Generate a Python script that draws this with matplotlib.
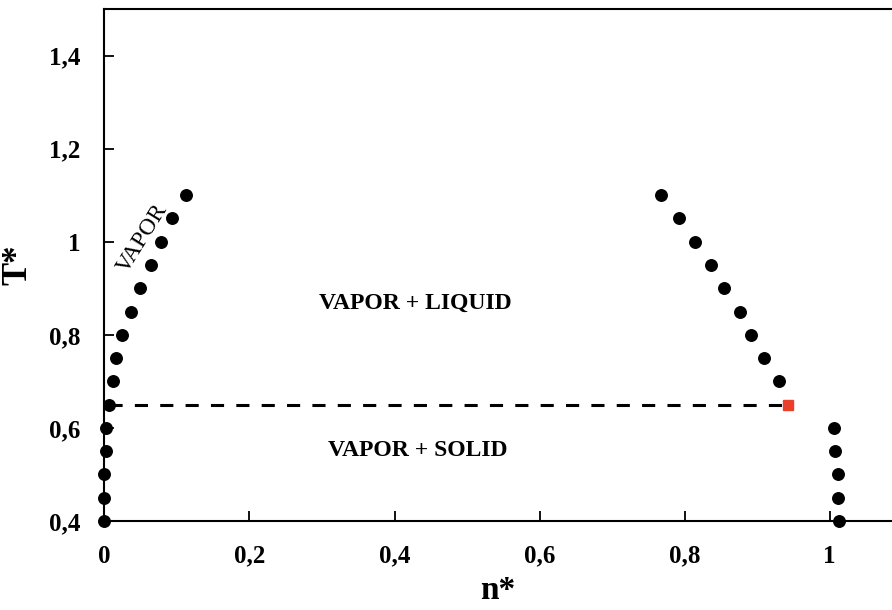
import matplotlib
matplotlib.use("Agg")
import matplotlib.pyplot as plt

# coexistence branches, reduced density n* vs reduced temperature T*
vapor_n = [0.0, 0.0, 0.0, 0.0015, 0.0015, 0.006, 0.012, 0.016, 0.024, 0.037,
           0.049, 0.064, 0.078, 0.093, 0.112]
vapor_T = [0.40, 0.45, 0.50, 0.55, 0.60, 0.65, 0.70, 0.75, 0.80, 0.85,
           0.90, 0.95, 1.00, 1.05, 1.10]

liquid_n = [0.930, 0.909, 0.892, 0.877, 0.854, 0.837, 0.815, 0.792, 0.768]
liquid_T = [0.70, 0.75, 0.80, 0.85, 0.90, 0.95, 1.00, 1.05, 1.10]

solid_n = [1.013, 1.011, 1.011, 1.007, 1.006]
solid_T = [0.40, 0.45, 0.50, 0.55, 0.60]

# triple point
triple_n = 0.942
triple_T = 0.65

x_ticks = [0, 0.2, 0.4, 0.6, 0.8, 1.0]
x_tick_labels = ["0", "0,2", "0,4", "0,6", "0,8", "1"]
y_ticks = [0.4, 0.6, 0.8, 1.0, 1.2, 1.4]
y_tick_labels = ["0,4", "0,6", "0,8", "1", "1,2", "1,4"]

plt.rcParams["font.family"] = ["Liberation Serif", "DejaVu Serif"]
plt.rcParams["font.weight"] = "bold"

fig = plt.figure(figsize=(8.92, 6.10), dpi=100)
ax = fig.add_axes([0.1171, 0.1459, 0.8829, 0.8393])

dot = dict(ls="none", marker="o", ms=8.3, color="black", clip_on=False, zorder=5)
ax.plot(vapor_n, vapor_T, **dot)
ax.plot(liquid_n, liquid_T, **dot)
ax.plot(solid_n, solid_T, **dot)

# triple line from the vapor branch to the triple point
ax.plot([vapor_n[vapor_T.index(triple_T)], triple_n], [triple_T, triple_T],
        color="black", lw=2.2, dashes=(4.3, 4), zorder=3)
ax.plot([triple_n], [triple_T], ls="none", marker="s", ms=7,
        color="#e8402a", zorder=6)

ax.text(0.428, 0.867, "VAPOR + LIQUID", fontsize=17, fontweight="bold",
        ha="center", va="center")
ax.text(0.432, 0.552, "VAPOR + SOLID", fontsize=17, fontweight="bold",
        ha="center", va="center")
ax.text(0.053, 1.008, "VAPOR", fontsize=17, fontweight="normal",
        rotation=58, ha="center", va="center", rotation_mode="anchor")

ax.set_xlim(0, 1.086)
ax.set_ylim(0.4, 1.5)
ax.set_xticks(x_ticks)
ax.set_xticklabels(x_tick_labels)
ax.set_yticks(y_ticks)
ax.set_yticklabels(y_tick_labels)
ax.tick_params(direction="in", length=7, width=1.3, labelsize=18, pad=17)

ax.set_xlabel("n*", fontsize=24, fontweight="bold", labelpad=5)
ax.set_ylabel("T*", fontsize=25, fontweight="bold", labelpad=11)

ax.spines["right"].set_visible(False)
for side in ("left", "top", "bottom"):
    ax.spines[side].set_linewidth(1.5)

fig.savefig("out.png", dpi=100)
